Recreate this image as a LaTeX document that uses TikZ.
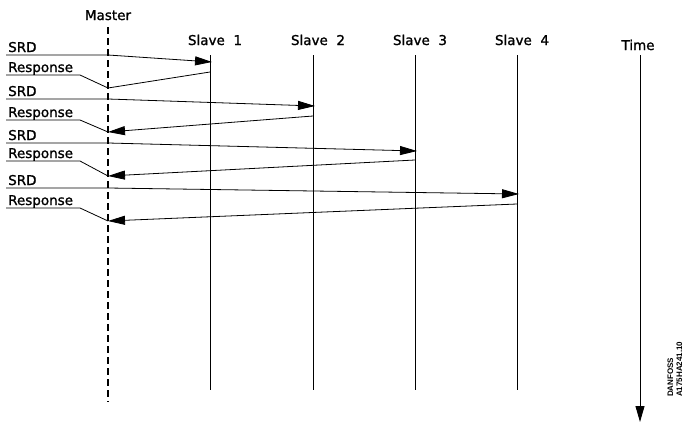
\documentclass[tikz,border=0pt]{standalone}
\usepackage{fontspec}
\setmainfont{DejaVu Sans}
\newfontfamily\cadfont{DejaVu Sans}[FakeBold=1.2]
\newfontfamily\codefont{Liberation Sans}
\usetikzlibrary{arrows.meta}
\begin{document}
\begin{tikzpicture}[x=1pt,y=-1pt,
  lbl/.style={anchor=base west,inner sep=0pt,font=\cadfont\fontsize{13.5}{16}\selectfont},
  head/.style={anchor=base,inner sep=0pt,font=\cadfont\fontsize{13.5}{16}\selectfont},
  life/.style={line width=0.8pt},
  master/.style={line width=2pt,dash pattern=on 7pt off 4pt},
  wire/.style={line width=0.8pt},
  msg/.style={line width=0.8pt,-{Triangle[length=17pt,width=9pt]}},
  code/.style={anchor=base west,rotate=90,inner sep=0pt,font=\codefont\bfseries\fontsize{8}{9}\selectfont}]
\useasboundingbox (0,0) rectangle (683,423);
% headings
\node[head] (hm) at (108,20) {Master};
\node[head] (h1) at (215,45) {Slave\ \ 1};
\node[head] (h2) at (318,45) {Slave\ \ 2};
\node[head] (h3) at (420,45) {Slave\ \ 3};
\node[head] (h4) at (522,45) {Slave\ \ 4};
\node[head] (ht) at (638,50) {Time};
% life lines
\coordinate (mt) at (108,27); \coordinate (mb) at (108,402);
\coordinate (a1) at (210,55); \coordinate (b1) at (210,390);
\coordinate (a2) at (313,55); \coordinate (b2) at (313,390);
\coordinate (a3) at (415,55); \coordinate (b3) at (415,390);
\coordinate (a4) at (517,55); \coordinate (b4) at (517,390);
\coordinate (ta) at (640,55); \coordinate (tb) at (640,422);
\draw[master] (mt) -- (mb);
\draw[life] (a1) -- (b1);
\draw[life] (a2) -- (b2);
\draw[life] (a3) -- (b3);
\draw[life] (a4) -- (b4);
\draw[line width=0.9pt,-{Triangle[length=16pt,width=9pt]}] (ta) -- (tb);
% labels
\node[lbl] (l1) at (8,52) {SRD};
\node[lbl] (r1) at (8,72) {Response};
\node[lbl] (l2) at (8,96) {SRD};
\node[lbl] (r2) at (8,117) {Response};
\node[lbl] (l3) at (8,140) {SRD};
\node[lbl] (r3) at (8,158) {Response};
\node[lbl] (l4) at (8,185) {SRD};
\node[lbl] (r4) at (8,205) {Response};
% SRD messages
\coordinate (p1) at (6,55); \coordinate (q1) at (108,55); \coordinate (t1) at (212,62);
\coordinate (p2) at (6,99); \coordinate (q2) at (108,99); \coordinate (t2) at (315,106);
\coordinate (p3) at (6,143); \coordinate (q3) at (108,143); \coordinate (t3) at (417,151);
\coordinate (p4) at (6,188); \coordinate (q4) at (108,188); \coordinate (t4) at (519,194);
\draw[msg] (p1) -- (q1) -- (t1);
\draw[msg] (p2) -- (q2) -- (t2);
\draw[msg] (p3) -- (q3) -- (t3);
\draw[msg] (p4) -- (q4) -- (t4);
% Response leaders
\coordinate (u1) at (6,75);  \coordinate (v1) at (80,75);  \coordinate (w1) at (108,88);
\coordinate (u2) at (6,120); \coordinate (v2) at (80,120); \coordinate (w2) at (108,132);
\coordinate (u3) at (6,161); \coordinate (v3) at (80,161); \coordinate (w3) at (108,176);
\coordinate (u4) at (6,208); \coordinate (v4) at (80,208); \coordinate (w4) at (108,221);
\draw[wire] (u1) -- (v1) -- (w1);
\draw[wire] (u2) -- (v2) -- (w2);
\draw[wire] (u3) -- (v3) -- (w3);
\draw[wire] (u4) -- (v4) -- (w4);
% Response messages
\coordinate (s1) at (210,72);
\coordinate (s2) at (313,116);
\coordinate (s3) at (415,160);
\coordinate (s4) at (517,204);
\draw[wire] (s1) -- (w1);
\draw[msg] (s2) -- (w2);
\draw[msg] (s3) -- (w3);
\draw[msg] (s4) -- (w4);
% drawing code
\node[code] (c1) at (673,397) {DANFOSS};
\node[code] (c2) at (682,397) {A175HA241.10};
\end{tikzpicture}
\end{document}
